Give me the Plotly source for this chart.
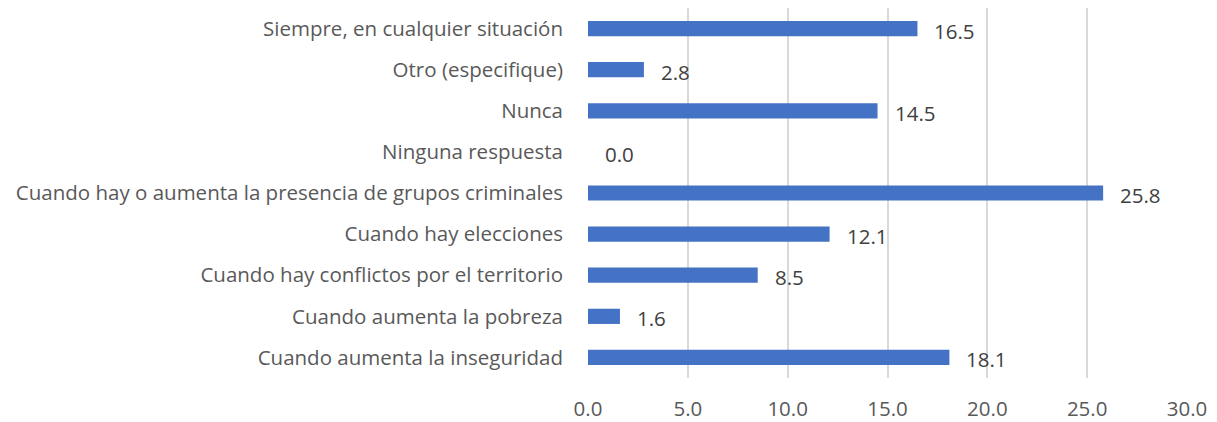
import plotly.graph_objects as go

categories = [
    "Cuando aumenta la inseguridad",
    "Cuando aumenta la pobreza",
    "Cuando hay conflictos por el territorio",
    "Cuando hay elecciones",
    "Cuando hay o aumenta la presencia de grupos criminales",
    "Ninguna respuesta",
    "Nunca",
    "Otro (especifique)",
    "Siempre, en cualquier situación",
]
values = [18.1, 1.6, 8.5, 12.1, 25.8, 0.0, 14.5, 2.8, 16.5]
x_ticks = [0, 5, 10, 15, 20, 25, 30]
x_tick_labels = ["0.0", "5.0", "10.0", "15.0", "20.0", "25.0", "30.0"]

FONT = "Open Sans"
FS = 20.5

fig = go.Figure()
fig.add_trace(go.Bar(
    y=categories, x=values, orientation="h",
    marker=dict(color="#4472C4", line=dict(width=0)),
    width=0.37,
    hoverinfo="x+y",
))

for c, v in zip(categories, values):
    fig.add_annotation(
        x=v, y=c, xref="x", yref="y",
        text=f"{v:.1f}", showarrow=False,
        xanchor="left", yanchor="middle",
        xshift=15, yshift=-2,
        font=dict(family=FONT, size=FS, color="#404040"),
    )

fig.update_layout(
    width=1209, height=414,
    margin=dict(l=580, r=30, t=0, b=44, pad=0),
    paper_bgcolor="white", plot_bgcolor="white",
    showlegend=False,
    font=dict(family=FONT, size=FS, color="#595959"),
    xaxis=dict(
        range=[0, 30], tickvals=x_ticks, ticktext=x_tick_labels,
        showgrid=True, gridcolor="#D9D9D9", gridwidth=1.5,
        zeroline=False, showline=False, ticks="",
        ticklabelstandoff=16,
        tickfont=dict(family=FONT, size=FS, color="#595959"),
    ),
    yaxis=dict(
        categoryorder="array", categoryarray=categories,
        showgrid=False, zeroline=False, showline=False, ticks="",
        ticklabelstandoff=24,
        tickfont=dict(family=FONT, size=FS, color="#595959"),
    ),
)

fig.write_html("out.html")
